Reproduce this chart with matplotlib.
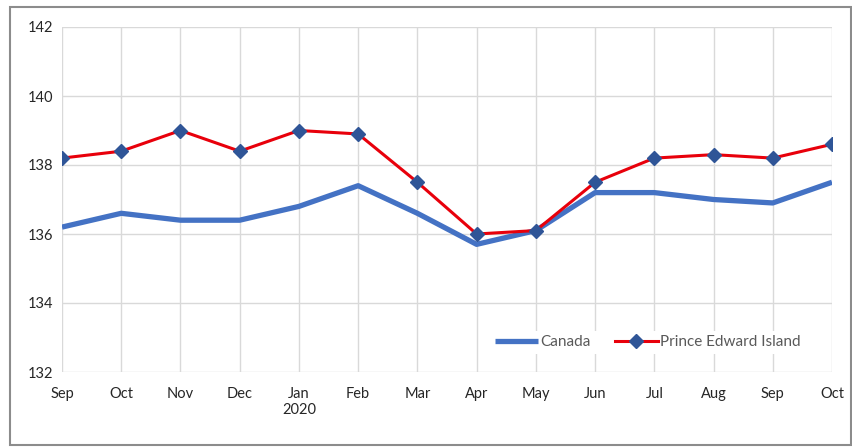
import matplotlib
matplotlib.use("Agg")
import matplotlib.pyplot as plt
from matplotlib.patches import Rectangle

months = ["Sep", "Oct", "Nov", "Dec", "Jan\n2020", "Feb", "Mar", "Apr", "May",
          "Jun", "Jul", "Aug", "Sep", "Oct"]
canada = [136.2, 136.6, 136.4, 136.4, 136.8, 137.4, 136.6, 135.7, 136.1,
          137.2, 137.2, 137.0, 136.9, 137.5]
pei = [138.2, 138.4, 139.0, 138.4, 139.0, 138.9, 137.5, 136.0, 136.1,
       137.5, 138.2, 138.3, 138.2, 138.6]
yticks = [132, 134, 136, 138, 140, 142]

plt.rcParams['font.family'] = ['Lato', 'DejaVu Sans']

fig = plt.figure(figsize=(8.53, 4.47), dpi=100)
ax = fig.add_axes([62/853, 1-372/447, (832-62)/853, (372-27)/447])

x = list(range(len(months)))
ax.plot(x, canada, color="#4472C4", lw=3.8, label="Canada", solid_capstyle="butt", zorder=3)
ax.plot(x, pei, color="#E8000B", lw=2.2, marker="D", markersize=7,
        markerfacecolor="#2F5597", markeredgecolor="#2F5597", label="Prince Edward Island", zorder=4)

ax.set_xlim(0, len(months)-1)
ax.set_ylim(132, 142)
ax.set_yticks(yticks)
ax.set_yticklabels([str(v) for v in yticks])
ax.set_xticks(x)
ax.set_xticklabels(months)
ax.grid(True, color="#D9D9D9", lw=1)
ax.set_axisbelow(True)
for s in ax.spines.values():
    s.set_visible(False)
ax.tick_params(length=0, labelsize=10.5, colors="#262626")
ax.tick_params(axis='x', pad=11)
ax.tick_params(axis='y', pad=6)

leg = ax.legend(loc="lower right", bbox_to_anchor=(0.975, 0.03), ncol=2, frameon=True,
                fontsize=11, handlelength=2.8, handletextpad=0.15, columnspacing=1.6,
                borderpad=0.3)
leg.get_frame().set_edgecolor("none")
leg.get_frame().set_facecolor("white")
leg.get_frame().set_alpha(1)
for t in leg.get_texts():
    t.set_color("#595959")

fig.patches.append(Rectangle((10/853, 2/447), 841/853, 438/447, transform=fig.transFigure,
                             fill=False, edgecolor="#8C8C8C", lw=1.5))

fig.savefig("out.png", dpi=100)
